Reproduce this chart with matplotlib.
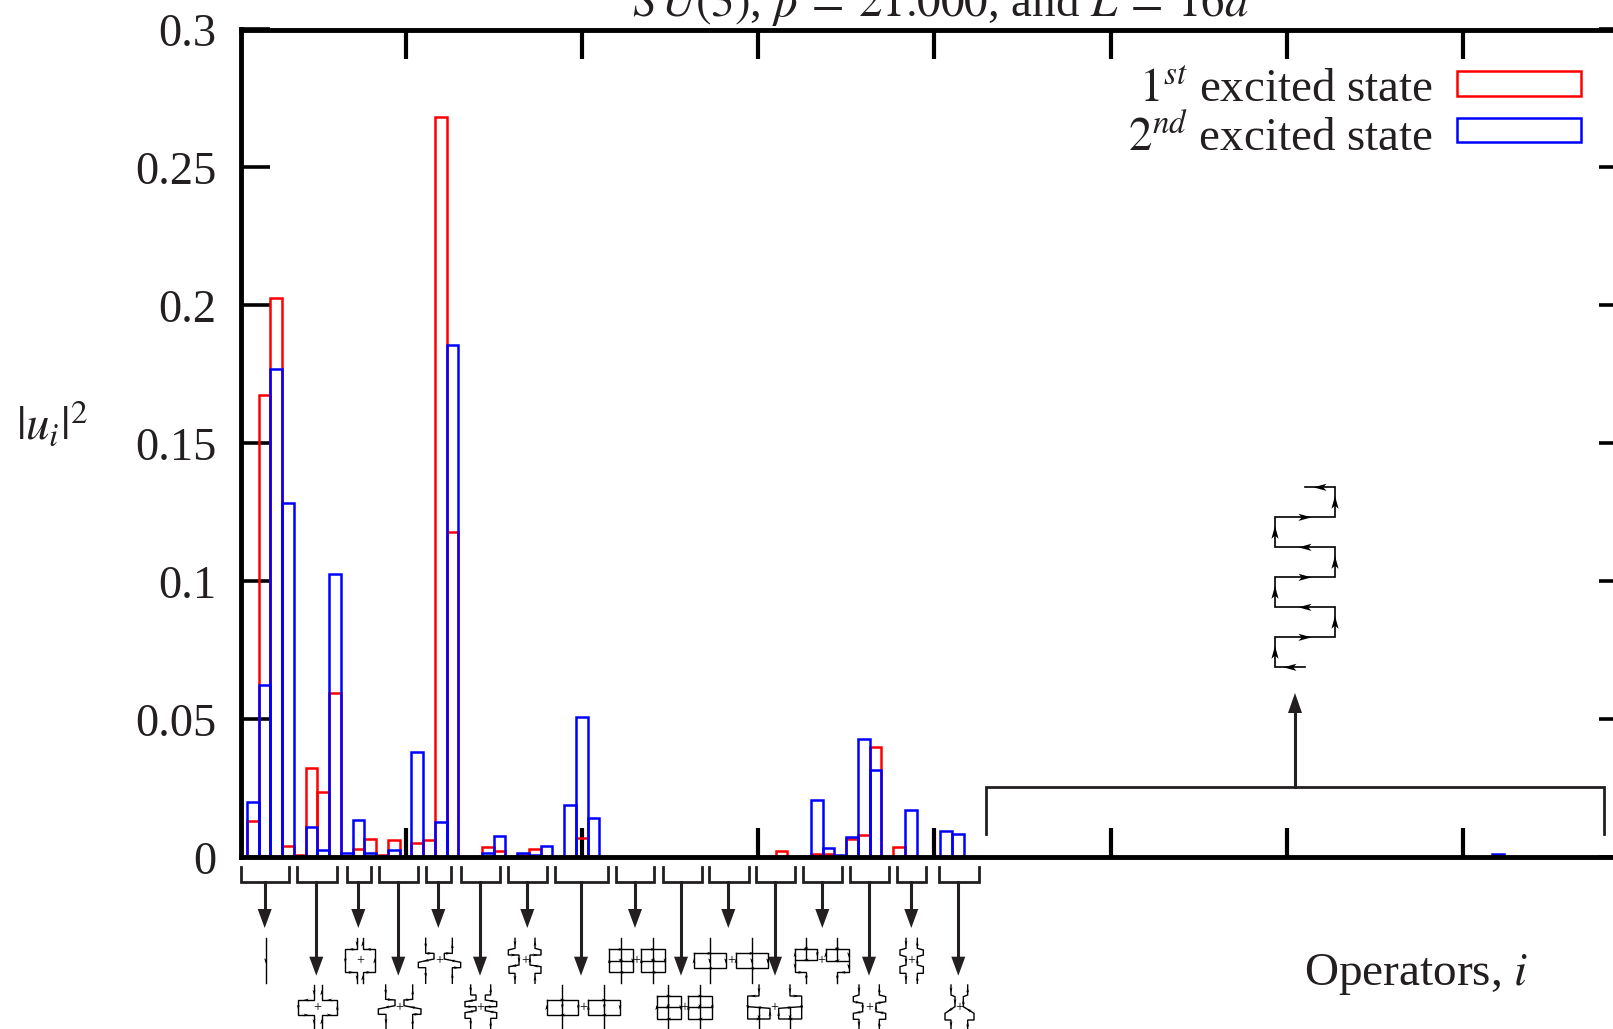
import numpy as np
import matplotlib
matplotlib.use("Agg")
import matplotlib.pyplot as plt
from matplotlib.patches import Patch, Polygon

plt.rcParams['font.family'] = ['Liberation Serif', 'DejaVu Serif']
plt.rcParams['mathtext.fontset'] = 'stix'

# operator index of each bar
operators = list(range(2, 63)) + [108, 109]
first_excited = [
    .0133, .1674, .2028, .0042, .0010, .0325, .0236, .0597, .0005, .0030,
    .0067, .0008, .0064, 0, .0053, .0061, .2682, .1179, 0, 0,
    .0039, .0024, 0, .0010, .0031, .0005, 0, 0, .0071, .0005,
    0, 0, 0, 0, 0, 0, 0, 0, 0, 0,
    0, 0, 0, 0, 0, .0023, 0, .0004, .0013, .0013,
    0, .0066, .0081, .0400, 0, .0039, .0004, 0, 0, 0,
    0, 0, 0]
second_excited = [
    .0201, .0625, .1769, .1283, 0, .0108, .0026, .1028, .0015, .0136,
    .0014, .0005, .0028, 0, .0380, 0, .0129, .1857, 0, 0,
    .0015, .0077, 0, .0015, .0010, .0041, 0, .0190, .0507, .0143,
    0, 0, 0, 0, 0, 0, 0, 0, 0, 0,
    0, 0, 0, 0, 0, 0, 0, 0, .0209, .0034,
    .0010, .0074, .0429, .0317, 0, 0, .0172, 0, 0, .0094,
    .0083, .0012, .0002]
y_ticks = [0, .05, .1, .15, .2, .25, .3]
y_tick_labels = ['0', '0.05', '0.1', '0.15', '0.2', '0.25', '0.3']
x_ticks = list(range(15, 120, 15))
title = r'$S\,U(3)$, $\beta\:=\:21.000$, and $L\:=\:16a$'
x_label = r'Operators, $i$'
y_label = r'$|u_i|^2$'
series_labels = [r'$1^{st}$ excited state', r'$2^{nd}$ excited state']

W, H = 1613, 1029
INK = '#231f20'
fig = plt.figure(figsize=(W / 100, H / 100), dpi=100, facecolor='white')
L, R, T, B = 241, 1627.5, 29.5, 857.3
ax = fig.add_axes([L / W, 1 - B / H, (R - L) / W, (B - T) / H])

ops = np.array(operators)
ax.bar(ops, first_excited, width=1, fill=False, edgecolor='#ff0000', linewidth=1.8)
ax.bar(ops, second_excited, width=1, fill=False, edgecolor='#0000ff', linewidth=1.8)
ax.set_xlim(1, 119)
ax.set_ylim(0, .3)
ax.set_axisbelow(True)
ax.set_xticks(x_ticks)
ax.set_xticklabels([])
ax.set_yticks(y_ticks)
ax.set_yticklabels(y_tick_labels, fontsize=33.5, color=INK)
ax.tick_params(axis='both', direction='in', length=21, width=3, top=True, right=True, color='black')
ax.tick_params(axis='y', pad=17.5, width=2.6)
for lab in ax.get_yticklabels():
    lab.set_va('center_baseline')
    lab.set_y(lab.get_position()[1])
for s in ax.spines.values():
    s.set_linewidth(3.5)

# page-pixel overlay for the annotations
ov = fig.add_axes([0, 0, 1, 1], facecolor='none')
ov.set_xlim(0, W)
ov.set_ylim(H, 0)
ov.axis('off')

ov.text(940, 16, title, fontsize=33.8, ha='center', va='baseline', color=INK, clip_on=False)
ov.text(1416, 985, x_label, fontsize=34, ha='center', va='baseline', color=INK)
ov.text(52, 440, y_label, fontsize=33.8, ha='center', va='baseline', color=INK)

handles = [Patch(fill=False, edgecolor='#ff0000', linewidth=1.8),
           Patch(fill=False, edgecolor='#0000ff', linewidth=1.8)]
leg = ov.legend(handles, series_labels, loc='upper right', bbox_to_anchor=(1581, 69.5),
                bbox_transform=ov.transData, frameon=False, fontsize=33.8, markerfirst=False,
                handlelength=2.65, handleheight=.42, handletextpad=.5, labelspacing=.08,
                borderpad=0, borderaxespad=0, labelcolor=INK)
for h, dy in zip(leg.legend_handles, (1.15, 3.4)):
    h.set_y(h.get_y() + dy)

# brackets: left, right, arrow x, arrow tip y
brackets = [
    (240.7, 289.3, 264.7, 928), (296.7, 336.7, 316.3, 975.7), (346.7, 371, 358.3, 928),
    (378.7, 418.3, 398.3, 975.7), (425.7, 451.3, 438.3, 928), (460.7, 500, 480, 975.7),
    (507.7, 546.7, 527.3, 928), (554.7, 607.7, 581, 975.7), (616, 654.3, 635, 928),
    (662.7, 701.7, 681, 975.7), (709.3, 748.7, 728.3, 928), (755.7, 795.3, 775, 975.7),
    (802.7, 842.3, 822.3, 928), (849.7, 889.3, 869, 975.7), (896.7, 926, 911.3, 928),
    (938.7, 978.7, 958.3, 975.7)]
for a, b, c, tip in brackets:
    ov.plot([a, a, b, b], [867, 881.7, 881.7, 867], color=INK, lw=2, solid_joinstyle='miter')
    ov.plot([c, c], [881.7, tip - 8], color=INK, lw=2.2)
    ov.add_patch(Polygon([(c, tip), (c - 7, tip - 19), (c + 7, tip - 19)], color=INK, lw=0))

# large bracket with upward arrow
ov.plot([986, 986, 1604, 1604], [834, 787.3, 787.3, 834], color=INK, lw=2, solid_joinstyle='miter')
ov.plot([1295, 1295], [787.3, 710], color=INK, lw=2.2)
ov.add_patch(Polygon([(1295, 693), (1288, 713), (1302, 713)], color=INK, lw=0))


def arrow(x, y, dx, dy, size):
    n = np.hypot(dx, dy)
    ux, uy = dx / n, dy / n
    px, py = -uy, ux
    w = size * .55
    tip = (x + ux * size, y + uy * size)
    back = (x - ux * size, y - uy * size)
    ov.add_patch(Polygon([tip, (back[0] + px * w, back[1] + py * w),
                          (x - ux * size * .5, y - uy * size * .5),
                          (back[0] - px * w, back[1] - py * w)],
                         color='black', lw=0))


def draw_path(pts, ox, oy, size=2.6, lw=1.0, min_len=24, scale=3.0):
    xy = np.array(pts, float) / scale + np.array([ox, oy])
    ov.plot(xy[:, 0], xy[:, 1], color='black', lw=lw, solid_joinstyle='miter')
    for p, q in zip(xy[:-1], xy[1:]):
        d = q - p
        if np.hypot(*d) * scale >= min_len:
            m = (p + q) / 2
            arrow(m[0], m[1], d[0], d[1], size)


def plus(x, y, ox, oy):
    ov.text(ox + x / 3, oy + y / 3, '+', fontsize=10, ha='center', va='center', color='black')


def box(x0, x1, y0, y1):
    return [(x0, y0), (x1, y0), (x1, y1), (x0, y1), (x0, y0)]


# operator sketches, read in crop coordinates
A = (230, 860)
Z = (620, 860)
sketches = [
    (A, (None, None), [[(107, 235), (107, 370)]]),
    (A, (263, 442), [[(252, 375), (252, 420), (205, 420), (205, 465), (252, 465), (252, 505)],
                     [(275, 505), (275, 465), (322, 465), (322, 420), (275, 420), (275, 375)]]),
    (A, (390, 302), [[(381, 235), (381, 268), (346, 268), (346, 337), (381, 337), (381, 370)],
                     [(398, 370), (398, 337), (434, 337), (434, 268), (398, 268), (398, 235)]]),
    (A, (508, 442), [[(467, 375), (467, 418), (495, 420), (495, 437), (445, 447), (445, 463), (468, 463), (468, 505)],
                     [(548, 505), (548, 463), (573, 463), (573, 447), (522, 437), (522, 420), (548, 418), (548, 375)]]),
    (A, (627, 302), [[(587, 235), (587, 280), (612, 280), (612, 297), (565, 307), (565, 323), (587, 323), (587, 370)],
                     [(667, 370), (667, 323), (692, 323), (692, 307), (643, 297), (643, 280), (667, 280), (667, 235)]]),
    (A, (752, 442), [[(722, 375), (722, 405), (738, 405), (738, 420), (705, 425), (705, 440), (738, 440),
                      (738, 452), (705, 458), (705, 475), (722, 475), (722, 505)],
                     [(782, 505), (782, 475), (800, 475), (800, 458), (766, 452), (766, 440), (800, 440),
                      (800, 425), (766, 420), (766, 405), (782, 405), (782, 375)]]),
    (A, (885, 302), [[(855, 235), (855, 265), (835, 270), (835, 285), (867, 285), (867, 315), (837, 320),
                      (837, 340), (855, 340), (855, 370)],
                     [(915, 370), (915, 340), (933, 340), (933, 320), (900, 315), (900, 285), (933, 285),
                      (933, 270), (915, 265), (915, 235)]]),
    (A, (1060, 442), [box(950, 1045, 420, 465), [(997, 375), (997, 505)],
                      box(1075, 1170, 420, 465), [(1123, 375), (1123, 505)]]),
    (Z, (50, 302), [box(-32, 38, 268, 337), [(-32, 302), (38, 302)], [(3, 235), (3, 370)],
                    box(64, 135, 268, 337), [(64, 302), (135, 302)], [(100, 235), (100, 370)]]),
    (Z, (193, 442), [box(110, 182, 408, 477), [(110, 442), (182, 442)], [(145, 375), (145, 505)],
                     box(205, 277, 408, 477), [(205, 442), (277, 442)], [(240, 375), (240, 505)]]),
    (Z, (333, 302), [box(222, 317, 280, 325), [(269, 235), (269, 370)],
                     box(348, 443, 280, 325), [(395, 235), (395, 370)]]),
    (Z, (463, 442), [[(417, 375), (417, 408), (383, 408), (383, 477), (450, 477), (450, 445), (383, 440)],
                     [(417, 440), (417, 505)],
                     [(510, 375), (510, 408), (545, 408), (545, 477), (476, 477), (476, 445), (545, 440)],
                     [(510, 440), (510, 505)]]),
    (Z, (605, 302), [box(525, 592, 267, 300), [(559, 235), (559, 300)],
                     [(525, 300), (525, 337), (559, 337), (559, 370)],
                     box(617, 686, 267, 302), [(652, 235), (652, 302)],
                     [(686, 302), (686, 337), (652, 337), (652, 370)]]),
    (Z, (748, 442), [[(717, 375), (717, 405), (700, 410), (700, 425), (728, 430), (728, 455), (700, 460),
                      (700, 478), (717, 478), (717, 505)],
                     [(778, 505), (778, 478), (797, 478), (797, 460), (768, 455), (768, 430), (797, 425),
                      (797, 410), (778, 405), (778, 375)]]),
    (Z, (875, 302), [[(858, 235), (858, 265), (840, 270), (840, 285), (858, 290), (858, 315), (840, 320),
                      (840, 340), (858, 340), (858, 370)],
                     [(892, 370), (892, 340), (910, 340), (910, 320), (892, 315), (892, 290), (910, 285),
                      (910, 270), (892, 265), (892, 235)]]),
    (Z, (1017, 442), [[(993, 375), (993, 405), (1005, 410), (1005, 440), (975, 460), (975, 480), (993, 480), (993, 505)],
                      [(1043, 505), (1043, 480), (1062, 480), (1062, 460), (1030, 440), (1030, 410), (1043, 405), (1043, 375)]]),
]
for origin, centre, paths in sketches:
    for p in paths:
        draw_path(p, *origin)
    if centre[0] is not None:
        plus(centre[0], centre[1], *origin)

# large staple operator above the big bracket (bottom to top)
staple = [(195, 592), (105, 592), (105, 502), (285, 502), (285, 412), (105, 412), (105, 322),
          (285, 322), (285, 232), (105, 232), (105, 142), (285, 142), (285, 52), (195, 52)]
draw_path(staple, 1240, 470, size=6.5, lw=1.2)

fig.savefig('out.png', dpi=100)
